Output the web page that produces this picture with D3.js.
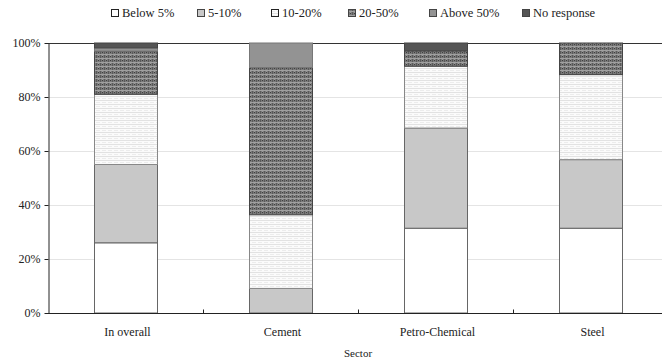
<!DOCTYPE html>
<html>
<head>
<meta charset="utf-8">
<script src="https://cdn.jsdelivr.net/npm/d3@7/dist/d3.min.js"></script>
<style>
  html, body { margin: 0; padding: 0; background: #fff; }
  svg text { font-family: "Liberation Serif", "Times New Roman", serif !important; }
</style>
</head>
<body>
<svg id="chart" width="662" height="363"></svg>
<script>
// Sectors on the x axis
const sectors = ["In overall", "Cement", "Petro-Chemical", "Steel"];
// Response bands, bottom to top
const bands = ["Below 5%", "5-10%", "10-20%", "20-50%", "Above 50%", "No response"];
// Share of respondents (%) per band, one value per sector
const below5 = [26, 0, 31.4, 31.4];
const from5to10 = [29, 9.1, 37.1, 25.4];
const from10to20 = [26, 27.3, 22.9, 31.5];
const from20to50 = [16, 54.5, 5.7, 11.7];
const above50 = [1.2, 9.1, 0, 0];
const noResponse = [1.8, 0, 2.9, 0];
const yTicks = [0, 20, 40, 60, 80, 100];

const series = [below5, from5to10, from10to20, from20to50, above50, noResponse];

const svg = d3.select("#chart");
const margin = { top: 43, left: 48, bottom: 50 };
const plotRight = 668;
const plotBottom = 363 - margin.bottom;
const serif = "'Liberation Serif', 'Times New Roman', serif";

// Patterns and fills for each band
const defs = svg.append("defs");

const stripes = defs.append("pattern")
  .attr("id", "pat-stripes").attr("patternUnits", "userSpaceOnUse")
  .attr("width", 6).attr("height", 4);
stripes.append("rect").attr("width", 6).attr("height", 4).attr("fill", "#fbfbfb");
stripes.append("rect").attr("y", 0).attr("width", 6).attr("height", 1).attr("fill", "#e2e2e2");
stripes.append("rect").attr("x", 0).attr("y", 2).attr("width", 4).attr("height", 1).attr("fill", "#ececec");

const checks = defs.append("pattern")
  .attr("id", "pat-checks").attr("patternUnits", "userSpaceOnUse")
  .attr("width", 4).attr("height", 4);
checks.append("rect").attr("width", 4).attr("height", 4).attr("fill", "#7a7a7a");
checks.append("rect").attr("x", 0).attr("y", 0).attr("width", 1).attr("height", 4).attr("fill", "#5a5a5a");
checks.append("rect").attr("x", 0).attr("y", 2).attr("width", 4).attr("height", 1).attr("fill", "#a0a0a0");
checks.append("rect").attr("x", 2).attr("y", 0).attr("width", 1).attr("height", 1).attr("fill", "#3e3e3e");
checks.append("rect").attr("x", 2).attr("y", 3).attr("width", 1).attr("height", 1).attr("fill", "#9a9a9a");

const fills = ["#ffffff", "#c8c8c8", "url(#pat-stripes)", "url(#pat-checks)", "#939393", "#555555"];
const strokes = ["#666", "#666", "#888", "#444", "#777", "#444"];

const x = d3.scaleBand().domain(sectors).range([margin.left, plotRight]).paddingInner(0).paddingOuter(0);
const y = d3.scaleLinear().domain([0, 100]).range([plotBottom, margin.top]);

// Gridlines
svg.append("g")
  .selectAll("line")
  .data(yTicks.filter(t => t > 0 && t < 100))
  .join("line")
  .attr("x1", margin.left).attr("x2", plotRight)
  .attr("y1", d => Math.round(y(d)) + 0.5).attr("y2", d => Math.round(y(d)) + 0.5)
  .attr("stroke", "#e4e4e4").attr("stroke-width", 1);

// Top border of plot area
svg.append("line")
  .attr("x1", margin.left).attr("x2", plotRight)
  .attr("y1", Math.round(y(100)) + 0.5).attr("y2", Math.round(y(100)) + 0.5)
  .attr("stroke", "#333").attr("stroke-width", 1);

// Stacked bars
const stackData = sectors.map((s, i) => {
  const row = { sector: s };
  bands.forEach((b, j) => { row[b] = series[j][i]; });
  return row;
});
const stacked = d3.stack().keys(bands)(stackData);
const barW = x.bandwidth() * 0.405;

const layers = svg.append("g").selectAll("g")
  .data(stacked)
  .join("g");

layers.each(function(layer, li) {
  d3.select(this).selectAll("rect")
    .data(layer.filter(d => d[1] - d[0] > 0))
    .join("rect")
    .attr("x", d => Math.round(x(d.data.sector) + (x.bandwidth() - barW) / 2) + 0.5)
    .attr("width", Math.round(barW))
    .attr("y", d => y(d[1]))
    .attr("height", d => y(d[0]) - y(d[1]))
    .attr("fill", fills[li])
    .attr("stroke", strokes[li])
    .attr("stroke-width", 1);
});

// Y axis
const yAxis = svg.append("g")
  .attr("transform", `translate(${margin.left + 0.5},0)`)
  .call(d3.axisLeft(y).tickValues(yTicks).tickFormat(d => d + "%").tickSize(4).tickSizeOuter(0));
yAxis.attr("font-family", null);
yAxis.select(".domain").attr("stroke", "#222");
yAxis.selectAll(".tick line").attr("stroke", "#222");
yAxis.selectAll(".tick text")
  .style("font-family", serif)
  .attr("font-size", 12).attr("fill", "#222").attr("x", -8);

// X axis with ticks at category boundaries
const xAxisG = svg.append("g").attr("transform", `translate(0,${plotBottom + 0.5})`);
xAxisG.append("line")
  .attr("x1", margin.left).attr("x2", plotRight)
  .attr("stroke", "#222");
xAxisG.selectAll("line.tk")
  .data(sectors.slice(1))
  .join("line").attr("class", "tk")
  .attr("x1", d => Math.round(x(d)) + 0.5).attr("x2", d => Math.round(x(d)) + 0.5)
  .attr("y1", 0).attr("y2", -4)
  .attr("stroke", "#222");
xAxisG.selectAll("text")
  .data(sectors)
  .join("text")
  .attr("x", d => x(d) + x.bandwidth() / 2 + 2)
  .attr("y", 22)
  .attr("text-anchor", "middle")
  .style("font-family", serif)
  .attr("font-size", 12).attr("fill", "#222")
  .text(d => d);

// Axis title
svg.append("text")
  .attr("x", 358).attr("y", 357)
  .attr("text-anchor", "middle")
  .style("font-family", serif)
  .attr("font-size", 11).attr("fill", "#222")
  .text("Sector");

// Legend
const legendX = [111, 197, 271, 348, 429, 522];
const legend = svg.append("g").selectAll("g")
  .data(bands)
  .join("g")
  .attr("transform", (d, i) => `translate(${legendX[i]},9)`);
legend.append("rect")
  .attr("x", 0.5).attr("y", 0.5).attr("width", 7).attr("height", 7)
  .attr("fill", (d, i) => fills[i])
  .attr("stroke", (d, i) => i === 0 || i === 2 ? "#222" : "#444");
legend.append("text")
  .attr("x", 11).attr("y", 8)
  .style("font-family", serif)
  .attr("font-size", 12.5).attr("fill", "#222")
  .text(d => d);
</script>
</body>
</html>
